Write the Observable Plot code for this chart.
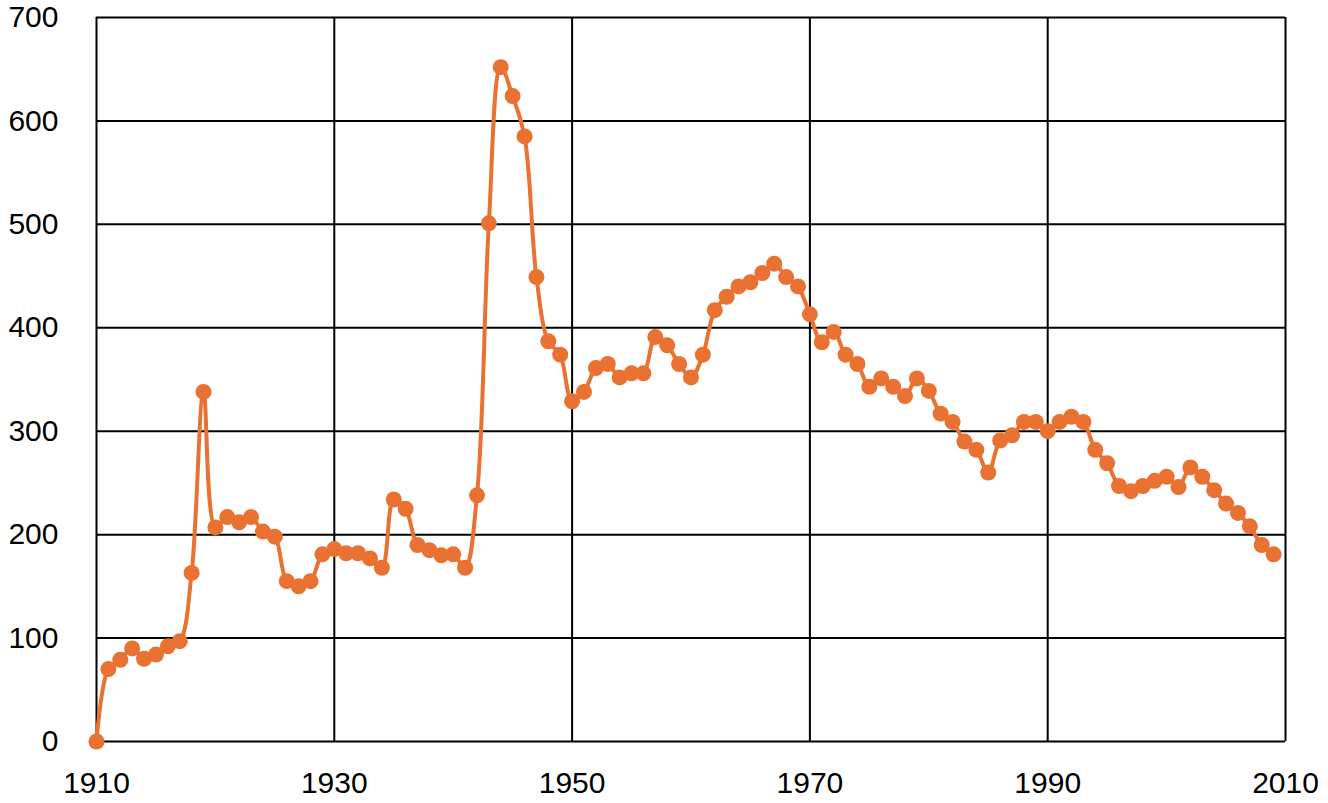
<!DOCTYPE html>
<html>
<head>
<meta charset="utf-8">
<script src="https://cdn.jsdelivr.net/npm/d3@7"></script>
<script src="https://cdn.jsdelivr.net/npm/@observablehq/plot@0.6"></script>
<style>
  html, body { margin: 0; padding: 0; background: #fff; }
  #chart svg { display: block; }
</style>
</head>
<body>
<div id="chart"></div>
<script>
const years = [
  1910,1911,1912,1913,1914,1915,1916,1917,1918,1919,
  1920,1921,1922,1923,1924,1925,1926,1927,1928,1929,
  1930,1931,1932,1933,1934,1935,1936,1937,1938,1939,
  1940,1941,1942,1943,1944,1945,1946,1947,1948,1949,
  1950,1951,1952,1953,1954,1955,1956,1957,1958,1959,
  1960,1961,1962,1963,1964,1965,1966,1967,1968,1969,
  1970,1971,1972,1973,1974,1975,1976,1977,1978,1979,
  1980,1981,1982,1983,1984,1985,1986,1987,1988,1989,
  1990,1991,1992,1993,1994,1995,1996,1997,1998,1999,
  2000,2001,2002,2003,2004,2005,2006,2007,2008,2009
];
const values = [
  0,70,79,90,80,84,92,97,163,338,
  207,217,212,217,203,198,155,150,155,181,
  186,182,182,177,168,234,225,190,185,180,
  181,168,238,501,652,624,585,449,387,374,
  329,338,361,365,352,356,356,391,383,365,
  352,374,417,430,440,444,453,462,449,440,
  413,386,396,374,365,343,351,343,334,351,
  339,317,309,290,282,260,291,296,309,309,
  300,309,314,309,282,269,247,242,247,252,
  256,246,265,256,243,230,221,208,190,181
];
const xTicks = [1910, 1930, 1950, 1970, 1990, 2010];
const yTicks = [0, 100, 200, 300, 400, 500, 600, 700];

const data = years.map((y, i) => ({year: y, value: values[i]}));
const orange = "#E97132";

const chart = Plot.plot({
  width: 1328,
  height: 803,
  marginLeft: 96,
  marginRight: 43,
  marginTop: 17,
  marginBottom: 62,
  style: {fontFamily: "'Liberation Sans', Arial, sans-serif", fontSize: "30px", color: "#000", background: "#fff", overflow: "visible"},
  x: {domain: [1910, 2010], label: null},
  y: {domain: [0, 700], label: null},
  marks: [
    Plot.ruleY(yTicks, {stroke: "#000", strokeWidth: 2}),
    Plot.ruleX(xTicks, {stroke: "#000", strokeWidth: 2}),
    Plot.axisX({ticks: xTicks, tickFormat: d => String(d), tickSize: 0, tickPadding: 30, fontSize: 30, label: null}),
    Plot.axisY({ticks: yTicks, tickFormat: d => String(d), tickSize: 0, tickPadding: 38, fontSize: 30, label: null}),
    Plot.line(data, {x: "year", y: "value", stroke: orange, strokeWidth: 4, curve: "catmull-rom"}),
    Plot.dot(data, {x: "year", y: "value", r: 8, fill: orange, stroke: "none"})
  ]
});
document.getElementById("chart").appendChild(chart);
</script>
</body>
</html>
